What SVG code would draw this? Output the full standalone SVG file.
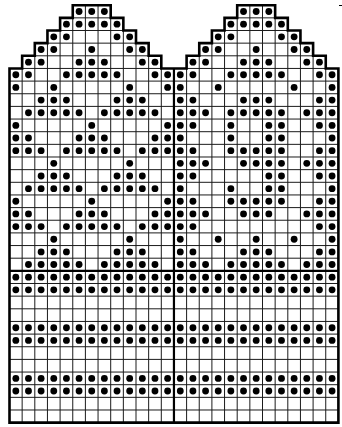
<svg xmlns="http://www.w3.org/2000/svg" width="342" height="427" viewBox="0 0 342 427">
<style>
.g line{stroke:#1a1a1a;stroke-width:1;vector-effect:non-scaling-stroke}
.dots circle{fill:#000}
.o{fill:none;stroke:#000;stroke-width:2.6;vector-effect:non-scaling-stroke}
.t{stroke:#000;stroke-width:2.2;vector-effect:non-scaling-stroke}
</style>
<defs>
<clipPath id="cp"><path d="M0 33V5H1V4H2V3H3V2H4V1H5V0H8V1H9V2H10V3H11V4H12V5H14V4H15V3H16V2H17V1H18V0H21V1H22V2H23V3H24V4H25V5H26V33Z"/></clipPath>
<g id="fr"><circle cx="0.5" r=".27"/><circle cx="1.5" r=".27"/><circle cx="2.5" r=".27"/><circle cx="3.5" r=".27"/><circle cx="4.5" r=".27"/><circle cx="5.5" r=".27"/><circle cx="6.5" r=".27"/><circle cx="7.5" r=".27"/><circle cx="8.5" r=".27"/><circle cx="9.5" r=".27"/><circle cx="10.5" r=".27"/><circle cx="11.5" r=".27"/><circle cx="12.5" r=".27"/><circle cx="13.5" r=".27"/><circle cx="14.5" r=".27"/><circle cx="15.5" r=".27"/><circle cx="16.5" r=".27"/><circle cx="17.5" r=".27"/><circle cx="18.5" r=".27"/><circle cx="19.5" r=".27"/><circle cx="20.5" r=".27"/><circle cx="21.5" r=".27"/><circle cx="22.5" r=".27"/><circle cx="23.5" r=".27"/><circle cx="24.5" r=".27"/><circle cx="25.5" r=".27"/></g>
</defs>
<rect width="342" height="427" fill="#fff"/>
<g transform="translate(9.5 5.2) scale(12.65)">
<g id="grid" class="g" clip-path="url(#cp)">
<rect x="0" y="0" width="26" height="33" fill="#fff" stroke="none"/>
<line x1="0" y1="1" x2="26" y2="1"/><line x1="0" y1="2" x2="26" y2="2"/><line x1="0" y1="3" x2="26" y2="3"/><line x1="0" y1="4" x2="26" y2="4"/><line x1="0" y1="5" x2="26" y2="5"/><line x1="0" y1="6" x2="26" y2="6"/><line x1="0" y1="7" x2="26" y2="7"/><line x1="0" y1="8" x2="26" y2="8"/><line x1="0" y1="9" x2="26" y2="9"/><line x1="0" y1="10" x2="26" y2="10"/><line x1="0" y1="11" x2="26" y2="11"/><line x1="0" y1="12" x2="26" y2="12"/><line x1="0" y1="13" x2="26" y2="13"/><line x1="0" y1="14" x2="26" y2="14"/><line x1="0" y1="15" x2="26" y2="15"/><line x1="0" y1="16" x2="26" y2="16"/><line x1="0" y1="17" x2="26" y2="17"/><line x1="0" y1="18" x2="26" y2="18"/><line x1="0" y1="19" x2="26" y2="19"/><line x1="0" y1="20" x2="26" y2="20"/><line x1="0" y1="22" x2="26" y2="22"/><line x1="0" y1="23" x2="26" y2="23"/><line x1="0" y1="24" x2="26" y2="24"/><line x1="0" y1="25" x2="26" y2="25"/><line x1="0" y1="26" x2="26" y2="26"/><line x1="0" y1="27" x2="26" y2="27"/><line x1="0" y1="28" x2="26" y2="28"/><line x1="0" y1="29" x2="26" y2="29"/><line x1="0" y1="30" x2="26" y2="30"/><line x1="0" y1="31" x2="26" y2="31"/><line x1="0" y1="32" x2="26" y2="32"/>
<line x1="1" y1="0" x2="1" y2="33"/><line x1="2" y1="0" x2="2" y2="33"/><line x1="3" y1="0" x2="3" y2="33"/><line x1="4" y1="0" x2="4" y2="33"/><line x1="5" y1="0" x2="5" y2="33"/><line x1="6" y1="0" x2="6" y2="33"/><line x1="7" y1="0" x2="7" y2="33"/><line x1="8" y1="0" x2="8" y2="33"/><line x1="9" y1="0" x2="9" y2="33"/><line x1="10" y1="0" x2="10" y2="33"/><line x1="11" y1="0" x2="11" y2="33"/><line x1="12" y1="0" x2="12" y2="33"/><line x1="14" y1="0" x2="14" y2="33"/><line x1="15" y1="0" x2="15" y2="33"/><line x1="16" y1="0" x2="16" y2="33"/><line x1="17" y1="0" x2="17" y2="33"/><line x1="18" y1="0" x2="18" y2="33"/><line x1="19" y1="0" x2="19" y2="33"/><line x1="20" y1="0" x2="20" y2="33"/><line x1="21" y1="0" x2="21" y2="33"/><line x1="22" y1="0" x2="22" y2="33"/><line x1="23" y1="0" x2="23" y2="33"/><line x1="24" y1="0" x2="24" y2="33"/><line x1="25" y1="0" x2="25" y2="33"/>
</g>
<g id="left-mitten" class="dots">
<g transform="translate(0 0.5)"><circle cx="5.5" r=".27"/><circle cx="6.5" r=".27"/><circle cx="7.5" r=".27"/></g>
<g transform="translate(0 1.5)"><circle cx="4.5" r=".27"/><circle cx="5.5" r=".27"/><circle cx="6.5" r=".27"/><circle cx="7.5" r=".27"/><circle cx="8.5" r=".27"/></g>
<g transform="translate(0 2.5)"><circle cx="3.5" r=".27"/><circle cx="4.5" r=".27"/><circle cx="8.5" r=".27"/><circle cx="9.5" r=".27"/></g>
<g transform="translate(0 3.5)"><circle cx="2.5" r=".27"/><circle cx="3.5" r=".27"/><circle cx="6.5" r=".27"/><circle cx="9.5" r=".27"/><circle cx="10.5" r=".27"/></g>
<g transform="translate(0 4.5)"><circle cx="1.5" r=".27"/><circle cx="2.5" r=".27"/><circle cx="5.5" r=".27"/><circle cx="6.5" r=".27"/><circle cx="7.5" r=".27"/><circle cx="10.5" r=".27"/><circle cx="11.5" r=".27"/></g>
<g transform="translate(0 5.5)"><circle cx="0.5" r=".27"/><circle cx="1.5" r=".27"/><circle cx="4.5" r=".27"/><circle cx="5.5" r=".27"/><circle cx="6.5" r=".27"/><circle cx="7.5" r=".27"/><circle cx="8.5" r=".27"/><circle cx="11.5" r=".27"/><circle cx="12.5" r=".27"/></g>
<g transform="translate(0 6.5)"><circle cx="0.5" r=".27"/><circle cx="3.5" r=".27"/><circle cx="9.5" r=".27"/><circle cx="12.5" r=".27"/></g>
<g transform="translate(0 7.5)"><circle cx="2.5" r=".27"/><circle cx="3.5" r=".27"/><circle cx="4.5" r=".27"/><circle cx="8.5" r=".27"/><circle cx="9.5" r=".27"/><circle cx="10.5" r=".27"/></g>
<g transform="translate(0 8.5)"><circle cx="1.5" r=".27"/><circle cx="2.5" r=".27"/><circle cx="3.5" r=".27"/><circle cx="4.5" r=".27"/><circle cx="5.5" r=".27"/><circle cx="7.5" r=".27"/><circle cx="8.5" r=".27"/><circle cx="9.5" r=".27"/><circle cx="10.5" r=".27"/><circle cx="11.5" r=".27"/></g>
<g transform="translate(0 9.5)"><circle cx="0.5" r=".27"/><circle cx="6.5" r=".27"/><circle cx="12.5" r=".27"/></g>
<g transform="translate(0 10.5)"><circle cx="0.5" r=".27"/><circle cx="1.5" r=".27"/><circle cx="5.5" r=".27"/><circle cx="6.5" r=".27"/><circle cx="7.5" r=".27"/><circle cx="11.5" r=".27"/><circle cx="12.5" r=".27"/></g>
<g transform="translate(0 11.5)"><circle cx="0.5" r=".27"/><circle cx="1.5" r=".27"/><circle cx="2.5" r=".27"/><circle cx="4.5" r=".27"/><circle cx="5.5" r=".27"/><circle cx="6.5" r=".27"/><circle cx="7.5" r=".27"/><circle cx="8.5" r=".27"/><circle cx="10.5" r=".27"/><circle cx="11.5" r=".27"/><circle cx="12.5" r=".27"/></g>
<g transform="translate(0 12.5)"><circle cx="3.5" r=".27"/><circle cx="9.5" r=".27"/></g>
<g transform="translate(0 13.5)"><circle cx="2.5" r=".27"/><circle cx="3.5" r=".27"/><circle cx="4.5" r=".27"/><circle cx="8.5" r=".27"/><circle cx="9.5" r=".27"/><circle cx="10.5" r=".27"/></g>
<g transform="translate(0 14.5)"><circle cx="1.5" r=".27"/><circle cx="2.5" r=".27"/><circle cx="3.5" r=".27"/><circle cx="4.5" r=".27"/><circle cx="5.5" r=".27"/><circle cx="7.5" r=".27"/><circle cx="8.5" r=".27"/><circle cx="9.5" r=".27"/><circle cx="10.5" r=".27"/><circle cx="11.5" r=".27"/></g>
<g transform="translate(0 15.5)"><circle cx="0.5" r=".27"/><circle cx="6.5" r=".27"/><circle cx="12.5" r=".27"/></g>
<g transform="translate(0 16.5)"><circle cx="0.5" r=".27"/><circle cx="1.5" r=".27"/><circle cx="5.5" r=".27"/><circle cx="6.5" r=".27"/><circle cx="7.5" r=".27"/><circle cx="11.5" r=".27"/><circle cx="12.5" r=".27"/></g>
<g transform="translate(0 17.5)"><circle cx="0.5" r=".27"/><circle cx="1.5" r=".27"/><circle cx="2.5" r=".27"/><circle cx="4.5" r=".27"/><circle cx="5.5" r=".27"/><circle cx="6.5" r=".27"/><circle cx="7.5" r=".27"/><circle cx="8.5" r=".27"/><circle cx="10.5" r=".27"/><circle cx="11.5" r=".27"/><circle cx="12.5" r=".27"/></g>
<g transform="translate(0 18.5)"><circle cx="3.5" r=".27"/><circle cx="9.5" r=".27"/></g>
<g transform="translate(0 19.5)"><circle cx="2.5" r=".27"/><circle cx="3.5" r=".27"/><circle cx="4.5" r=".27"/><circle cx="8.5" r=".27"/><circle cx="9.5" r=".27"/><circle cx="10.5" r=".27"/></g>
<g transform="translate(0 20.5)"><circle cx="1.5" r=".27"/><circle cx="2.5" r=".27"/><circle cx="3.5" r=".27"/><circle cx="4.5" r=".27"/><circle cx="5.5" r=".27"/><circle cx="7.5" r=".27"/><circle cx="8.5" r=".27"/><circle cx="9.5" r=".27"/><circle cx="10.5" r=".27"/><circle cx="11.5" r=".27"/></g>
</g>
<g id="right-mitten" class="dots" transform="translate(13 0)">
<g transform="translate(0 0.5)"><circle cx="5.5" r=".27"/><circle cx="6.5" r=".27"/><circle cx="7.5" r=".27"/></g>
<g transform="translate(0 1.5)"><circle cx="4.5" r=".27"/><circle cx="5.5" r=".27"/><circle cx="6.5" r=".27"/><circle cx="7.5" r=".27"/><circle cx="8.5" r=".27"/></g>
<g transform="translate(0 2.5)"><circle cx="3.5" r=".27"/><circle cx="4.5" r=".27"/><circle cx="8.5" r=".27"/><circle cx="9.5" r=".27"/></g>
<g transform="translate(0 3.5)"><circle cx="2.5" r=".27"/><circle cx="3.5" r=".27"/><circle cx="6.5" r=".27"/><circle cx="9.5" r=".27"/><circle cx="10.5" r=".27"/></g>
<g transform="translate(0 4.5)"><circle cx="1.5" r=".27"/><circle cx="2.5" r=".27"/><circle cx="5.5" r=".27"/><circle cx="6.5" r=".27"/><circle cx="7.5" r=".27"/><circle cx="10.5" r=".27"/><circle cx="11.5" r=".27"/></g>
<g transform="translate(0 5.5)"><circle cx="0.5" r=".27"/><circle cx="1.5" r=".27"/><circle cx="4.5" r=".27"/><circle cx="5.5" r=".27"/><circle cx="6.5" r=".27"/><circle cx="7.5" r=".27"/><circle cx="8.5" r=".27"/><circle cx="11.5" r=".27"/><circle cx="12.5" r=".27"/></g>
<g transform="translate(0 6.5)"><circle cx="0.5" r=".27"/><circle cx="3.5" r=".27"/><circle cx="9.5" r=".27"/><circle cx="12.5" r=".27"/></g>
<g transform="translate(0 7.5)"><circle cx="0.5" r=".27"/><circle cx="1.5" r=".27"/><circle cx="5.5" r=".27"/><circle cx="6.5" r=".27"/><circle cx="7.5" r=".27"/><circle cx="11.5" r=".27"/><circle cx="12.5" r=".27"/></g>
<g transform="translate(0 8.5)"><circle cx="0.5" r=".27"/><circle cx="1.5" r=".27"/><circle cx="2.5" r=".27"/><circle cx="4.5" r=".27"/><circle cx="5.5" r=".27"/><circle cx="6.5" r=".27"/><circle cx="7.5" r=".27"/><circle cx="8.5" r=".27"/><circle cx="10.5" r=".27"/><circle cx="11.5" r=".27"/><circle cx="12.5" r=".27"/></g>
<g transform="translate(0 9.5)"><circle cx="0.5" r=".27"/><circle cx="1.5" r=".27"/><circle cx="4.5" r=".27"/><circle cx="7.5" r=".27"/><circle cx="8.5" r=".27"/><circle cx="11.5" r=".27"/><circle cx="12.5" r=".27"/></g>
<g transform="translate(0 10.5)"><circle cx="0.5" r=".27"/><circle cx="4.5" r=".27"/><circle cx="7.5" r=".27"/><circle cx="8.5" r=".27"/><circle cx="12.5" r=".27"/></g>
<g transform="translate(0 11.5)"><circle cx="0.5" r=".27"/><circle cx="1.5" r=".27"/><circle cx="4.5" r=".27"/><circle cx="5.5" r=".27"/><circle cx="6.5" r=".27"/><circle cx="7.5" r=".27"/><circle cx="8.5" r=".27"/><circle cx="11.5" r=".27"/><circle cx="12.5" r=".27"/></g>
<g transform="translate(0 12.5)"><circle cx="0.5" r=".27"/><circle cx="1.5" r=".27"/><circle cx="2.5" r=".27"/><circle cx="5.5" r=".27"/><circle cx="6.5" r=".27"/><circle cx="7.5" r=".27"/><circle cx="8.5" r=".27"/><circle cx="10.5" r=".27"/><circle cx="11.5" r=".27"/><circle cx="12.5" r=".27"/></g>
<g transform="translate(0 13.5)"><circle cx="0.5" r=".27"/><circle cx="1.5" r=".27"/><circle cx="7.5" r=".27"/><circle cx="8.5" r=".27"/><circle cx="11.5" r=".27"/><circle cx="12.5" r=".27"/></g>
<g transform="translate(0 14.5)"><circle cx="0.5" r=".27"/><circle cx="4.5" r=".27"/><circle cx="7.5" r=".27"/><circle cx="8.5" r=".27"/><circle cx="12.5" r=".27"/></g>
<g transform="translate(0 15.5)"><circle cx="0.5" r=".27"/><circle cx="1.5" r=".27"/><circle cx="4.5" r=".27"/><circle cx="5.5" r=".27"/><circle cx="6.5" r=".27"/><circle cx="7.5" r=".27"/><circle cx="8.5" r=".27"/><circle cx="11.5" r=".27"/><circle cx="12.5" r=".27"/></g>
<g transform="translate(0 16.5)"><circle cx="0.5" r=".27"/><circle cx="1.5" r=".27"/><circle cx="2.5" r=".27"/><circle cx="5.5" r=".27"/><circle cx="6.5" r=".27"/><circle cx="7.5" r=".27"/><circle cx="10.5" r=".27"/><circle cx="11.5" r=".27"/><circle cx="12.5" r=".27"/></g>
<g transform="translate(0 17.5)"><circle cx="0.5" r=".27"/><circle cx="1.5" r=".27"/><circle cx="11.5" r=".27"/><circle cx="12.5" r=".27"/></g>
<g transform="translate(0 18.5)"><circle cx="0.5" r=".27"/><circle cx="3.5" r=".27"/><circle cx="6.5" r=".27"/><circle cx="9.5" r=".27"/><circle cx="12.5" r=".27"/></g>
<g transform="translate(0 19.5)"><circle cx="0.5" r=".27"/><circle cx="1.5" r=".27"/><circle cx="5.5" r=".27"/><circle cx="6.5" r=".27"/><circle cx="7.5" r=".27"/><circle cx="11.5" r=".27"/><circle cx="12.5" r=".27"/></g>
<g transform="translate(0 20.5)"><circle cx="0.5" r=".27"/><circle cx="1.5" r=".27"/><circle cx="2.5" r=".27"/><circle cx="4.5" r=".27"/><circle cx="5.5" r=".27"/><circle cx="6.5" r=".27"/><circle cx="7.5" r=".27"/><circle cx="8.5" r=".27"/><circle cx="10.5" r=".27"/><circle cx="11.5" r=".27"/><circle cx="12.5" r=".27"/></g>
</g>
<g id="cuff" class="dots">
<use href="#fr" y="21.5"/><use href="#fr" y="22.5"/>
<use href="#fr" y="25.5"/><use href="#fr" y="26.5"/>
<use href="#fr" y="29.5"/><use href="#fr" y="30.5"/>
</g>
<g id="outline">
<path class="o" d="M0 33V5H1V4H2V3H3V2H4V1H5V0H8V1H9V2H10V3H11V4H12V5H14V4H15V3H16V2H17V1H18V0H21V1H22V2H23V3H24V4H25V5H26V33Z"/>
<line class="t" x1="13" y1="5" x2="13" y2="33"/>
<line class="t" x1="0" y1="21" x2="26" y2="21"/>
</g>
</g>
<line x1="339" y1="5.5" x2="342" y2="5.5" stroke="#000" stroke-width="1"/>
</svg>
